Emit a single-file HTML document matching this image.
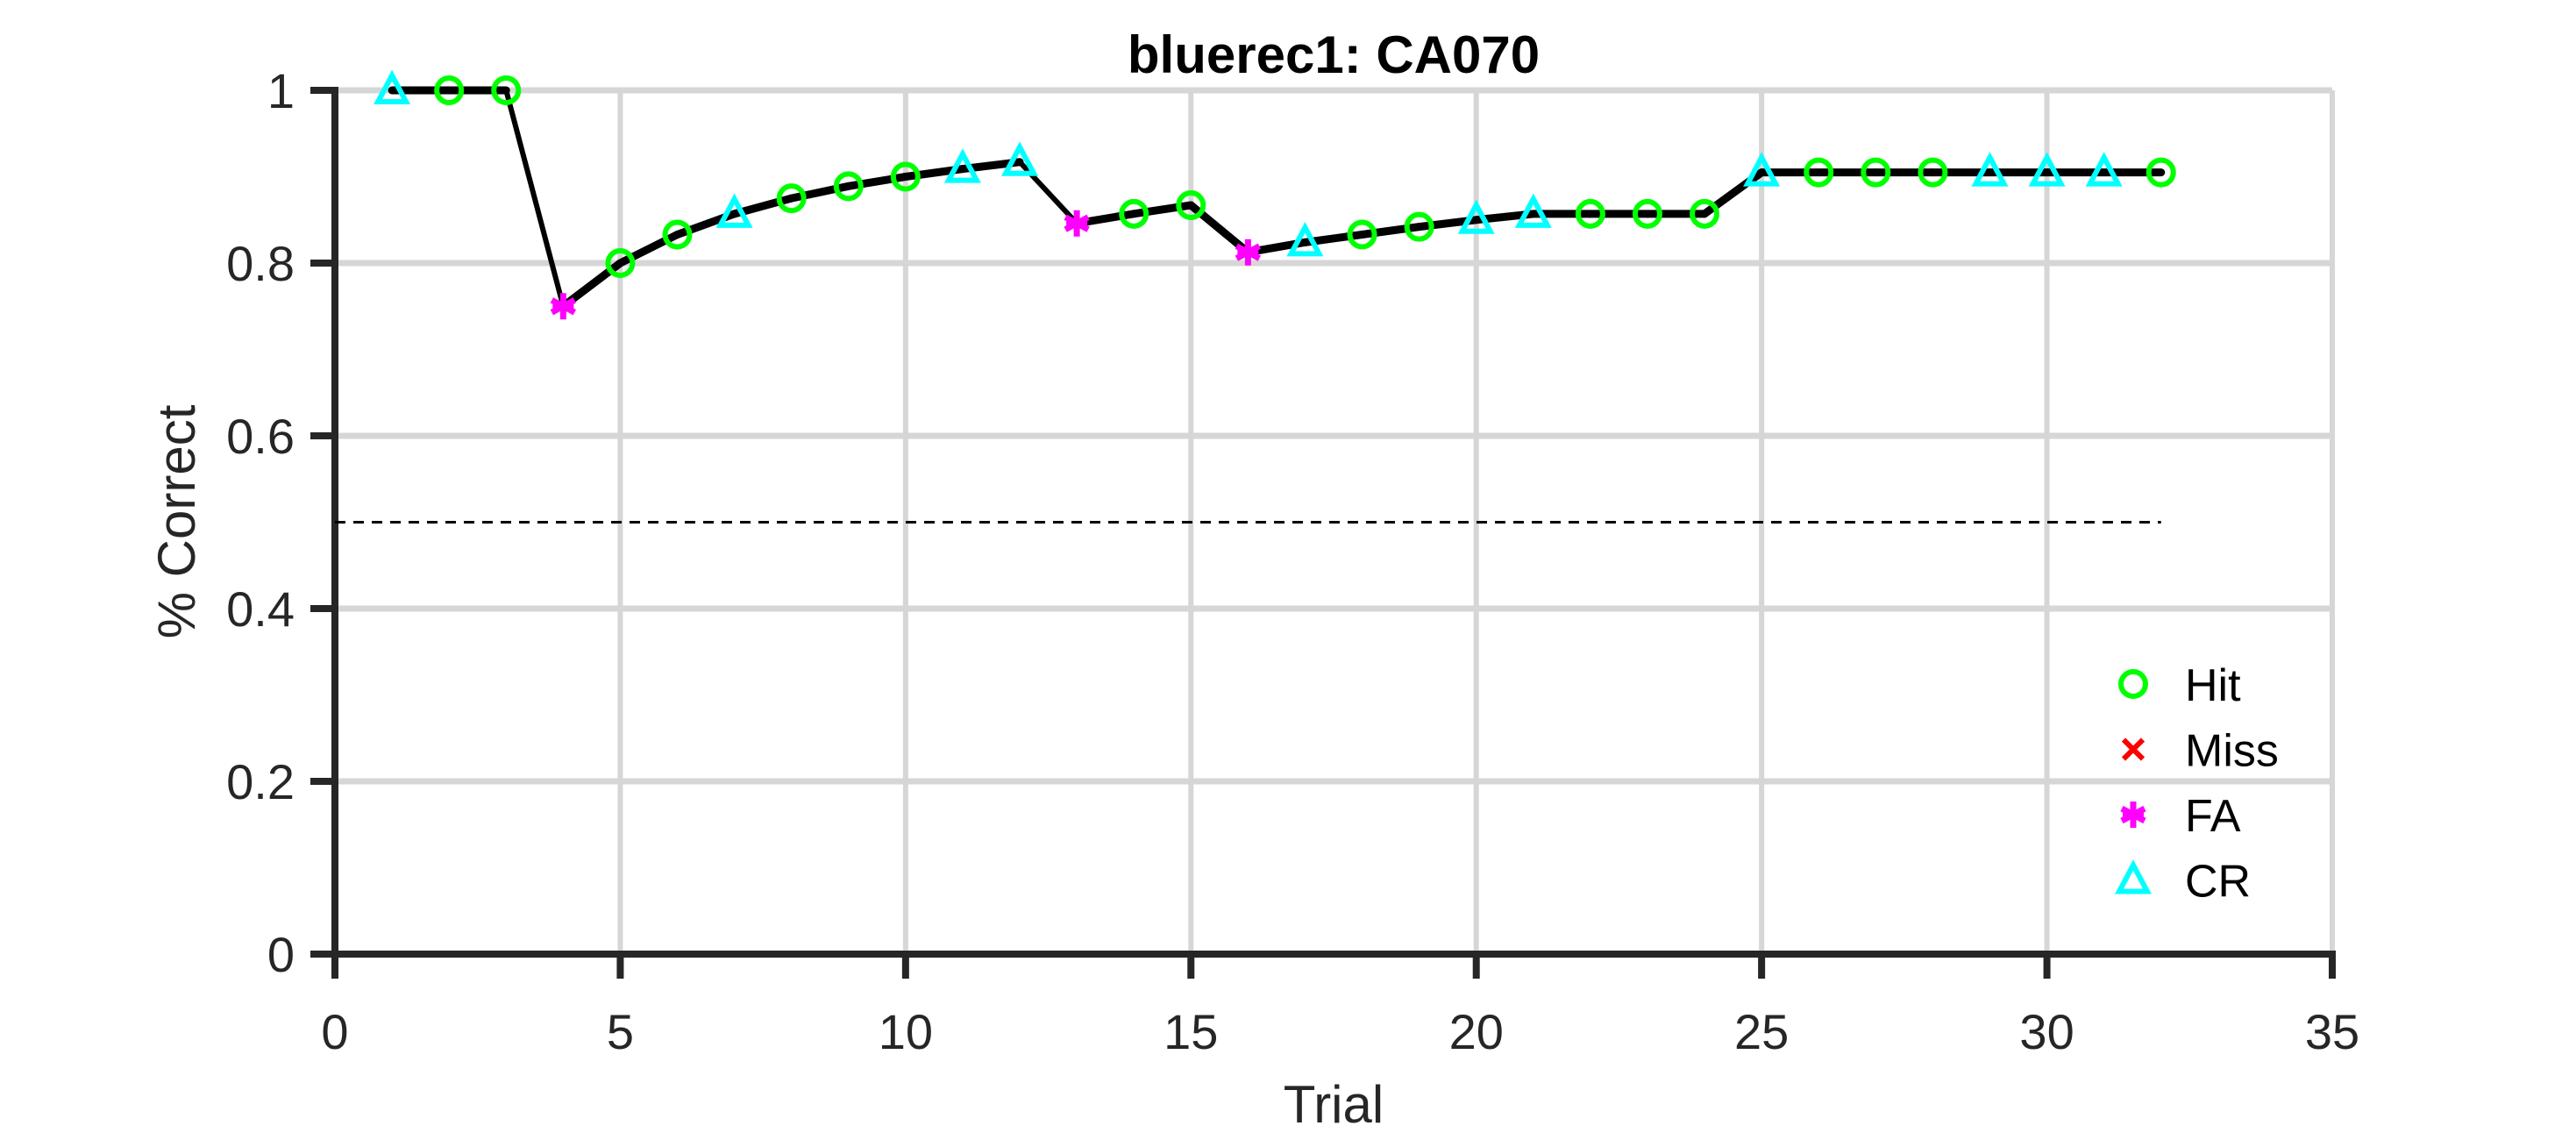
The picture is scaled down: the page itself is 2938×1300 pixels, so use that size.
<!DOCTYPE html>
<html><head><meta charset="utf-8"><style>
html,body{margin:0;padding:0;background:#fff;}
svg{display:block;font-family:"Liberation Sans",Arial,sans-serif;}
</style></head><body>
<svg id="chart" width="2938" height="1300" viewBox="0 0 2938 1300" xmlns="http://www.w3.org/2000/svg">
<rect width="2938" height="1300" fill="#fff"/>
<g id="grid"></g>
<g id="axes"></g>
<g id="plot"></g>
<text x="1521" y="83" font-size="60" font-weight="bold" text-anchor="middle" fill="#000">bluerec1: CA070</text>
<text x="1521" y="1280" font-size="60" text-anchor="middle" fill="#262626">Trial</text>
<text transform="translate(222,595) rotate(-90)" font-size="60" text-anchor="middle" fill="#262626">% Correct</text>
<g id="legend"></g>
</svg>
<script>
const trials = [1,2,3,4,5,6,7,8,9,10,11,12,13,14,15,16,17,18,19,20,21,22,23,24,25,26,27,28,29,30,31,32];
const pctCorrect = [1,1,1,0.75,0.8,0.833,0.857,0.875,0.889,0.9,0.909,0.917,0.846,0.857,0.867,0.8125,0.824,0.833,0.842,0.85,0.857,0.857,0.857,0.857,0.905,0.905,0.905,0.905,0.905,0.905,0.905,0.905];
const outcomes = ["CR","Hit","Hit","FA","Hit","Hit","CR","Hit","Hit","Hit","CR","CR","FA","Hit","Hit","FA","CR","Hit","Hit","CR","CR","Hit","Hit","Hit","CR","Hit","Hit","Hit","CR","CR","CR","Hit"];
const xTicks = [0,5,10,15,20,25,30,35];
const yTicks = [0,0.2,0.4,0.6,0.8,1];
const yTickLabels = ["0","0.2","0.4","0.6","0.8","1"];
const chanceLevel = 0.5;
const chanceRange = [0,32];
const legendLabels = ["Hit","Miss","FA","CR"];

const NS="http://www.w3.org/2000/svg";
const X0=382,X1=2660,Y0=1088,Y1=103;
const xs=v=>X0+(v-0)/(35-0)*(X1-X0);
const ys=v=>Y0-(v-0)/(1-0)*(Y0-Y1);
function mk(tag,attrs,parent){const e=document.createElementNS(NS,tag);for(const k in attrs)e.setAttribute(k,attrs[k]);parent.appendChild(e);return e;}
const grid=document.getElementById('grid'),axes=document.getElementById('axes'),plot=document.getElementById('plot'),legend=document.getElementById('legend');

xTicks.forEach(t=>{if(t===0)return;const l=mk('line',{x1:xs(t),x2:xs(t),y1:Y0,y2:Y1,stroke:'#d6d6d6','stroke-width':6},grid);

});
yTicks.forEach(t=>{if(t===0)return;const l=mk('line',{x1:X0,x2:X1,y1:ys(t),y2:ys(t),stroke:'#d6d6d6','stroke-width':7},grid);

});

const xa=mk('line',{x1:X0-27,x2:X1+4,y1:Y0,y2:Y0,stroke:'#262626','stroke-width':8},axes);


const ya=mk('line',{x1:X0,x2:X0,y1:Y0+27,y2:Y1-4,stroke:'#262626','stroke-width':8},axes);


xTicks.forEach(t=>{const tk=mk('line',{x1:xs(t),x2:xs(t),y1:Y0,y2:Y0+28,stroke:'#262626','stroke-width':8},axes);


const tx=mk('text',{x:xs(t),y:Y0+108,'font-size':56,'text-anchor':'middle',fill:'#262626'},axes);tx.textContent=t;

});
yTicks.forEach((t,i)=>{const tk=mk('line',{x1:X0-28,x2:X0,y1:ys(t),y2:ys(t),stroke:'#262626','stroke-width':8},axes);


const tx=mk('text',{x:X0-46,y:ys(t)+20,'font-size':56,'text-anchor':'end',fill:'#262626'},axes);tx.textContent=yTickLabels[i];

});

const ch=mk('line',{x1:xs(chanceRange[0]),x2:xs(chanceRange[1]),y1:ys(chanceLevel),y2:ys(chanceLevel),stroke:'#000','stroke-width':3,'stroke-dasharray':'12 9'},plot);



for(let i=0;i<trials.length-1;i++){
  const x1=xs(trials[i]),y1=ys(pctCorrect[i]),x2=xs(trials[i+1]),y2=ys(pctCorrect[i+1]);
  const steep=Math.abs(y2-y1)>Math.abs(x2-x1);
  const seg=mk('line',{x1:x1,y1:y1,x2:x2,y2:y2,stroke:'#000','stroke-width':steep?6:9,'stroke-linecap':'round'},plot);
  
  
}

function marker(type,x,y,parent){
  let e;
  if(type==='Hit'){e=mk('circle',{cx:x,cy:y,r:14,fill:'none',stroke:'#00ff00','stroke-width':6},parent);}
  else if(type==='Miss'){e=mk('path',{d:`M${x-11},${y-11}L${x+11},${y+11}M${x-11},${y+11}L${x+11},${y-11}`,stroke:'#ff0000','stroke-width':6},parent);}
  else if(type==='FA'){e=mk('path',{d:`M${x},${y-15}V${y+15}M${x-13},${y-7}L${x+13},${y+7}M${x-13},${y+7}L${x+13},${y-7}M${x-12},${y}H${x+12}`,stroke:'#ff00ff','stroke-width':7},parent);}
  else {e=mk('path',{d:`M${x},${y-17}L${x+16},${y+13}L${x-16},${y+13}Z`,fill:'none',stroke:'#00ffff','stroke-width':6,'stroke-linejoin':'miter'},parent);}
  return e;
}
trials.forEach((t,i)=>{const m=marker(outcomes[i],xs(t),ys(pctCorrect[i]),plot);

});

legendLabels.forEach((lab,i)=>{const y=780+i*74.5;
const m=marker(lab,2433,y,legend);


const tx=mk('text',{x:2492,y:y+19,'font-size':52,fill:'#000'},legend);tx.textContent=lab;

});
</script>
</body></html>
